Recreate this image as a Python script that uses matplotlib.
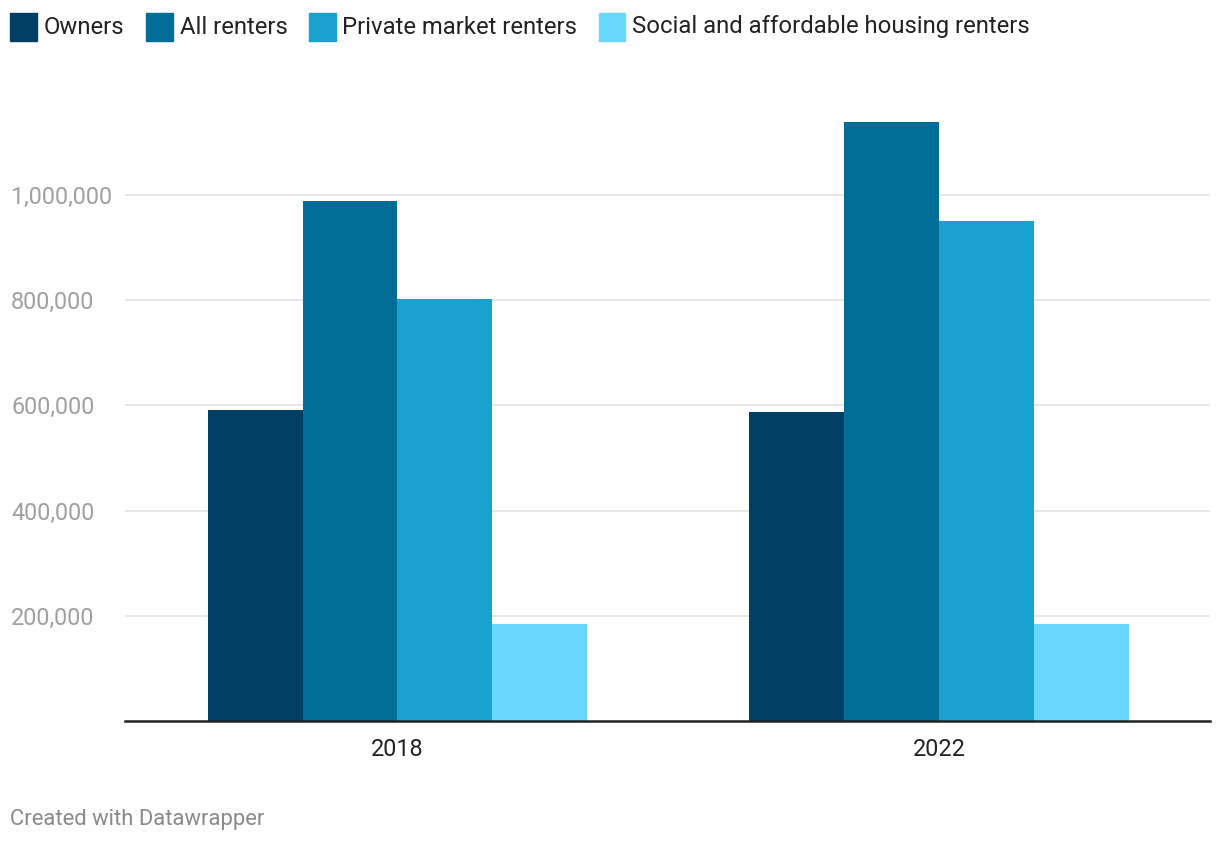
import numpy as np
import matplotlib.pyplot as plt
from matplotlib.patches import Rectangle

years = ["2018", "2022"]
series = ["Owners", "All renters", "Private market renters",
          "Social and affordable housing renters"]
values = {
    "Owners": [591000, 587500],
    "All renters": [988500, 1138500],
    "Private market renters": [802500, 950500],
    "Social and affordable housing renters": [184500, 184500],
}
colors = ["#003f63", "#006d96", "#1aa2cf", "#69d7fd"]
yticks = [200000, 400000, 600000, 800000, 1000000]

plt.rcParams['font.family'] = ['Roboto', 'DejaVu Sans']

W, H = 1220, 844
fig = plt.figure(figsize=(W / 100, H / 100), dpi=100)

# axes placed in pixel terms
left, right, bottom, top = 125, 1210, 721, 116
ax = fig.add_axes([left / W, 1 - bottom / H, (right - left) / W, (bottom - top) / H])

x = np.arange(len(years))
w = 0.1754
for i, s in enumerate(series):
    ax.bar(x + (i - 1.5) * w, values[s], width=w, color=colors[i], zorder=2)

ax.set_xlim(-0.5032, 1.5005)
ax.set_ylim(0, 1150000)
ax.set_yticks(yticks)
ax.set_yticklabels([f"{v:,}" for v in yticks])
ax.set_xticks(x)
ax.set_xticklabels(years)
ax.grid(axis='y', color='#e5e5e5', linewidth=1.3, zorder=0)
for sp in ['top', 'right', 'left']:
    ax.spines[sp].set_visible(False)
ax.spines['bottom'].set_color('#222222')
ax.spines['bottom'].set_linewidth(1.8)
ax.spines['bottom'].set_zorder(3)
# labels left-aligned at x = 10 px
ax.tick_params(axis='y', length=0, labelsize=16.8, labelcolor='#a0a0a0',
               pad=(left - 11) * 0.72)
ax.tick_params(axis='x', length=0, labelsize=16.8, labelcolor='#222222', pad=12)
for lab in ax.get_yticklabels():
    lab.set_horizontalalignment('left')

# legend drawn by hand across the top
renderer = fig.canvas.get_renderer()
xpos = 10
for i, s in enumerate(series):
    fig.patches.append(Rectangle((xpos / W, 1 - 41 / H), 27 / W, 28 / H,
                                 transform=fig.transFigure, color=colors[i]))
    t = fig.text((xpos + 34) / W, 1 - 27 / H, s, fontsize=17.2, color='#222222',
                 va='center', ha='left')
    ext = t.get_window_extent(renderer)
    xpos = ext.x1 + 21

fig.text(10 / W, 1 - 819 / H, "Created with Datawrapper", fontsize=15.8,
         color='#8a8a8a', va='center', ha='left')

fig.savefig("out.png", dpi=100)
